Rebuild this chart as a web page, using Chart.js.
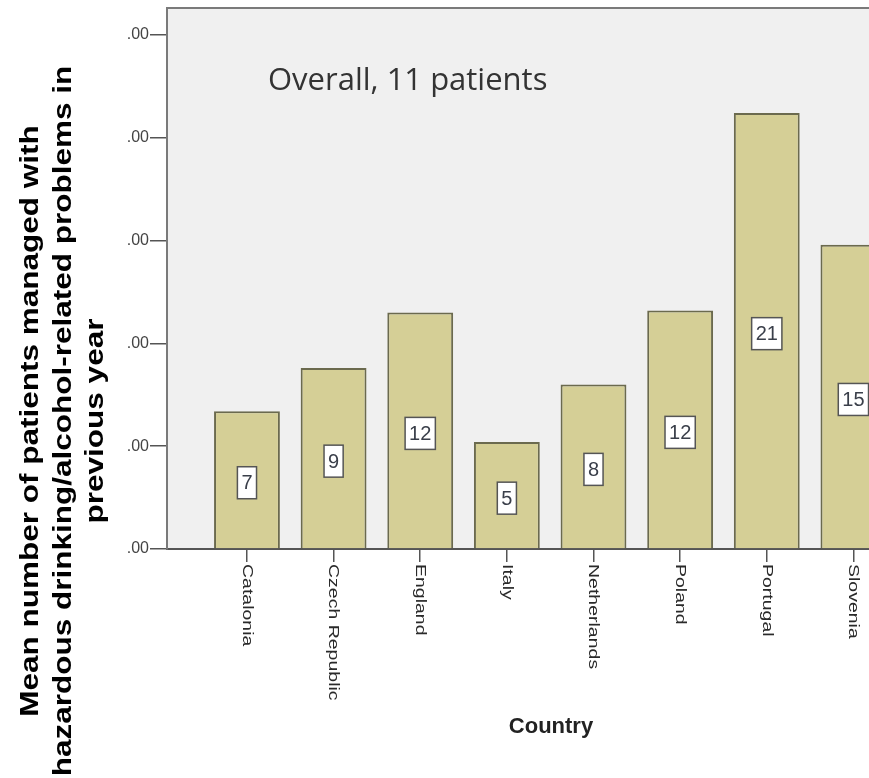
<!DOCTYPE html>
<html>
<head>
<meta charset="utf-8">
<script src="https://cdn.jsdelivr.net/npm/chart.js@4.4.0/dist/chart.umd.min.js"></script>
<style>
  html, body { margin: 0; padding: 0; background: #fff; overflow: hidden; }
  .graph-container { width: 869px; height: 778px; position: relative; }
</style>
</head>
<body>
<div class="graph-container"><canvas id="chart"></canvas></div>
<script>
const countries = ['Catalonia', 'Czech Republic', 'England', 'Italy', 'Netherlands', 'Poland', 'Portugal', 'Slovenia'];
const meanPatients = [6.7, 8.8, 11.5, 5.2, 8.0, 11.6, 21.2, 14.8];
const yTickValues = [0, 5, 10, 15, 20, 25];
const yTickLabel = '.00';
const yTitleLines = ['Mean number of patients managed with', 'hazardous drinking/alcohol-related problems in', 'previous year'];
const xTitle = 'Country';
const note = 'Overall, 11 patients';

// fond gris, cadre, textes et étiquettes dessinés à la main (style SPSS)
const spssPlugin = {
    id: 'spss',
    beforeDraw(chart) {
        const { ctx, chartArea: a } = chart;
        ctx.save();
        ctx.fillStyle = '#f0f0f0';
        ctx.fillRect(a.left, a.top, a.right - a.left, a.bottom - a.top);
        ctx.strokeStyle = '#7a7a7a';
        ctx.lineWidth = 2;
        ctx.beginPath();
        ctx.moveTo(a.left, a.top);
        ctx.lineTo(a.right, a.top);
        ctx.stroke();
        ctx.restore();
    },
    afterDatasetsDraw(chart) {
        const { ctx } = chart;
        const bars = chart.getDatasetMeta(0).data;
        ctx.save();
        ctx.font = '20px "Liberation Sans", Arial, sans-serif';
        ctx.textAlign = 'center';
        ctx.textBaseline = 'middle';
        bars.forEach((bar, i) => {
            const txt = String(Math.round(meanPatients[i]));
            const cy = (bar.y + bar.base) / 2 + 3;
            const w = ctx.measureText(txt).width + 8;
            const h = 32;
            ctx.fillStyle = '#ffffff';
            ctx.fillRect(bar.x - w / 2, cy - h / 2, w, h);
            ctx.strokeStyle = '#555555';
            ctx.lineWidth = 1.5;
            ctx.strokeRect(bar.x - w / 2, cy - h / 2, w, h);
            ctx.fillStyle = '#3a3f4a';
            ctx.fillText(txt, bar.x, cy + 1);
        });
        ctx.restore();
    },
    afterDraw(chart) {
        const { ctx, scales } = chart;
        ctx.save();

        // étiquettes de l'axe Y
        ctx.font = '16px "Liberation Sans", Arial, sans-serif';
        ctx.fillStyle = '#444';
        ctx.textAlign = 'right';
        ctx.textBaseline = 'middle';
        yTickValues.forEach(v => {
            ctx.fillText(yTickLabel, 149, scales.y.getPixelForValue(v));
        });

        // étiquettes des pays, tournées de 90°
        ctx.font = '15px "Liberation Sans", Arial, sans-serif';
        ctx.fillStyle = '#2a2a2a';
        ctx.textAlign = 'left';
        countries.forEach((c, i) => {
            ctx.save();
            ctx.translate(scales.x.getPixelForValue(i), 564);
            ctx.rotate(Math.PI / 2);
            ctx.scale(1.3, 1);
            ctx.fillText(c, 0, 0);
            ctx.restore();
        });

        // titre de l'axe Y
        ctx.font = 'bold 25px "Liberation Sans", Arial, sans-serif';
        ctx.fillStyle = '#000';
        ctx.textAlign = 'center';
        ctx.textBaseline = 'alphabetic';
        yTitleLines.forEach((line, i) => {
            ctx.save();
            ctx.translate(38 + 32.5 * i, 421);
            ctx.rotate(-Math.PI / 2);
            ctx.scale(1.26, 1);
            ctx.fillText(line, 0, 0);
            ctx.restore();
        });

        // titre de l'axe X
        ctx.font = 'bold 22px "Liberation Sans", Arial, sans-serif';
        ctx.fillStyle = '#222';
        ctx.fillText(xTitle, 551, 733);

        // note
        ctx.font = '31px "Open Sans", sans-serif';
        ctx.fillStyle = '#333';
        ctx.textAlign = 'left';
        ctx.fillText(note, 268, 90);

        ctx.restore();
    }
};

const ctx = document.getElementById('chart').getContext('2d');
new Chart(ctx, {
    type: 'bar',
    data: {
        datasets: [{
            data: meanPatients.map((v, i) => ({ x: i, y: v })),
            backgroundColor: '#d5cf96',
            borderColor: '#6b6a4e',
            borderWidth: 2,
            barPercentage: 0.76,
            categoryPercentage: 1
        }]
    },
    options: {
        responsive: true,
        maintainAspectRatio: false,
        animation: false,
        layout: { padding: { top: 8, left: 0, right: 0, bottom: 0 } },
        plugins: { legend: { display: false }, tooltip: { enabled: false } },
        scales: {
            x: {
                type: 'linear',
                offset: false,
                min: -0.923,
                max: 7.18,
                afterBuildTicks: (scale) => { scale.ticks = countries.map((c, i) => ({ value: i })); },
                afterFit: (scale) => { scale.height = 229; },
                ticks: { display: false },
                grid: { display: true, offset: false, drawOnChartArea: false, drawTicks: true, tickLength: 13, color: '#555', lineWidth: 1.5 },
                border: { display: true, color: '#555', width: 2 }
            },
            y: {
                min: 0,
                max: 26.31,
                afterBuildTicks: (scale) => { scale.ticks = yTickValues.map(v => ({ value: v })); },
                afterFit: (scale) => { scale.width = 167; },
                ticks: { display: false },
                grid: { display: true, drawOnChartArea: false, drawTicks: true, tickLength: 17, color: '#555', lineWidth: 1.5 },
                border: { display: true, color: '#7a7a7a', width: 2 }
            }
        }
    },
    plugins: [spssPlugin]
});
</script>
</body>
</html>
